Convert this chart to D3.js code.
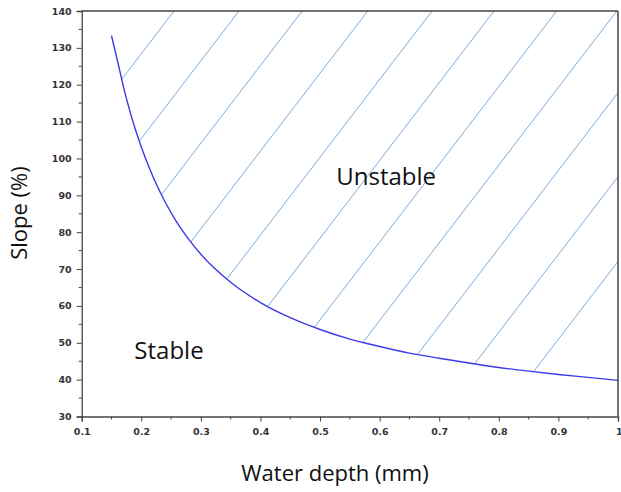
<!DOCTYPE html>
<html><head><meta charset="utf-8">
<script src="https://cdn.jsdelivr.net/npm/d3@7"></script>
<style>body{margin:0;background:#fff}svg{display:block}</style>
</head><body>
<script>
// Data
const depth = [0.15,0.16,0.17,0.18,0.19,0.20,0.22,0.24,0.26,0.28,0.30,0.35,0.40,0.45,0.50,0.55,0.60,0.65,0.70,0.75,0.80,0.85,0.90,0.95,1.00];
const slope = [133.3,126.5,119.5,113.3,107.9,103.1,94.9,88.2,82.6,78.0,74.0,66.4,60.9,56.8,53.6,51.0,49.0,47.2,45.8,44.5,43.3,42.3,41.4,40.6,39.8];
const hatchTopX = [0.255,0.364,0.470,0.580,0.688,0.792,0.897,0.998,1.105,1.213,1.322];
const hatchSlope = 211; // % per mm
const xTicks = [0.1,0.2,0.3,0.4,0.5,0.6,0.7,0.8,0.9,1.0];
const xTickLabels = ["0.1","0.2","0.3","0.4","0.5","0.6","0.7","0.8","0.9","1"];
const xMinor = [0.15,0.25,0.35,0.45,0.55,0.65,0.75,0.85,0.95];
const yTicks = [30,40,50,60,70,80,90,100,110,120,130,140];
const yMinor = [35,45,55,65,75,85,95,105,115,125,135];
const labels = [{t:"Unstable", x:0.611, y:95.3}, {t:"Stable", x:0.2465, y:48.1}];

const W=621,H=492;
const L=81.7,R=618,T=11,B=416.5;
const svg=d3.select("body").append("svg").attr("width",W).attr("height",H);
const x=d3.scaleLinear().domain([0.1,1]).range([L,R]);
const y=d3.scaleLinear().domain([30,140]).range([B,T]);

// clip region above curve
const pts = depth.map((d,i)=>[d,slope[i]]);
const area=d3.area().x(d=>x(d[0])).y0(y(140)).y1(d=>y(d[1])).curve(d3.curveMonotoneX);
svg.append("clipPath").attr("id","above").append("path").attr("d",area(pts));

svg.append("g").attr("clip-path","url(#above)")
  .selectAll("line").data(hatchTopX).join("line")
  .attr("x1",d=>x(d)).attr("y1",y(140))
  .attr("x2",d=>x(d-110/hatchSlope)).attr("y2",y(30))
  .attr("stroke","#80acd8").attr("stroke-width",1);

// curve
const line=d3.line().x(d=>x(d[0])).y(d=>y(d[1])).curve(d3.curveMonotoneX);
svg.append("path").attr("d",line(pts)).attr("fill","none").attr("stroke","#3a3ae8").attr("stroke-width",1.4);

// frame
const ax="#444";
svg.append("line").attr("x1",L).attr("x2",R).attr("y1",T).attr("y2",T).attr("stroke",ax).attr("stroke-width",1.5);
svg.append("line").attr("x1",R).attr("x2",R).attr("y1",T).attr("y2",B).attr("stroke",ax).attr("stroke-width",1.5);

const xAxis=d3.axisBottom(x).tickValues(xTicks).tickFormat((d,i)=>xTickLabels[i]).tickSize(5).tickPadding(7);
const gx=svg.append("g").attr("transform",`translate(0,${B})`).call(xAxis);
gx.selectAll(".tick").filter(d=>d>=0.9999).select("text").attr("text-anchor","end").attr("dx","4");
gx.selectAll(".tick-minor").data(xMinor).join("line").attr("x1",d=>x(d)).attr("x2",d=>x(d)).attr("y1",0).attr("y2",3).attr("stroke",ax);

const yAxis=d3.axisLeft(y).tickValues(yTicks).tickSize(5).tickPadding(5);
const gy=svg.append("g").attr("transform",`translate(${L},0)`).call(yAxis);
gy.selectAll(".tick-minor").data(yMinor).join("line").attr("x1",0).attr("x2",-3).attr("y1",d=>y(d)).attr("y2",d=>y(d)).attr("stroke",ax);

[gx,gy].forEach(g=>{
  g.select(".domain").attr("stroke",ax).attr("stroke-width",1.3);
  g.selectAll(".tick line").attr("stroke",ax);
  g.selectAll("text").attr("font-family","DejaVu Sans").attr("font-size",9.5).attr("fill","#333").attr("font-weight","bold");
});

// titles
svg.append("text").attr("x",335).attr("y",481).attr("text-anchor","middle")
  .attr("font-family","Open Sans").attr("font-size",22).attr("fill","#111").text("Water depth (mm)");
svg.append("text").attr("transform","translate(27,213) rotate(-90)").attr("text-anchor","middle")
  .attr("font-family","Open Sans").attr("font-size",22).attr("fill","#111").text("Slope (%)");

svg.selectAll(".lbl").data(labels).join("text")
  .attr("x",d=>x(d.x)).attr("y",d=>y(d.y)).attr("text-anchor","middle").attr("dominant-baseline","central")
  .attr("font-family","Open Sans").attr("font-size",24).attr("fill","#111").text(d=>d.t);
</script>
</body></html>
